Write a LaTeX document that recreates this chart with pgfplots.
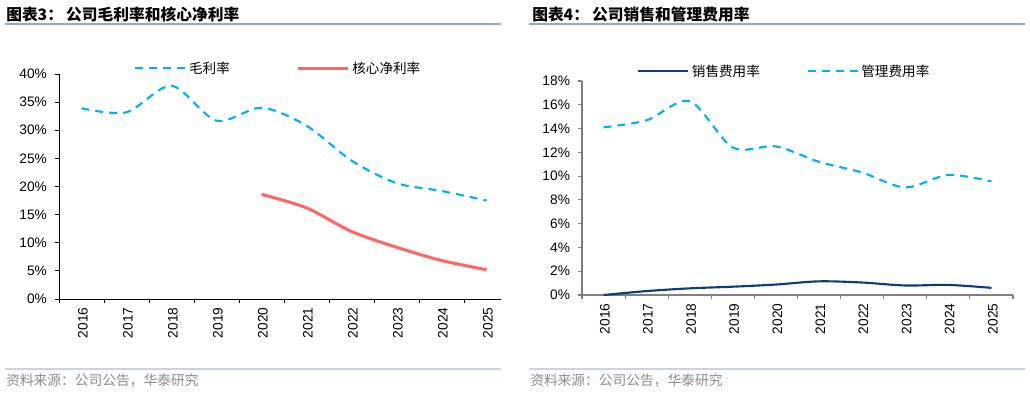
\documentclass[border=0pt]{standalone}
\usepackage{pgfplots}
\pgfplotsset{compat=1.18}
\usepackage{fontspec}
\setmainfont{Liberation Sans}
\newfontfamily\cjk{Noto Sans CJK SC}
\definecolor{cyanA}{HTML}{00B0F0}
\definecolor{redA}{HTML}{FF6666}
\definecolor{navyA}{HTML}{0F3C78}
\definecolor{titleline}{HTML}{8EAACB}
\definecolor{srcline}{HTML}{C8D4E2}
\definecolor{srctext}{HTML}{8C8C8C}
\pgfplotsset{
  mystyle/.style={
    scale only axis,
    axis x line*=bottom, axis y line*=left,
    tick align=outside,
    ymin=0,
    xmin=-0.5,
    xtick={0,...,9},
    xticklabels={2016,2017,2018,2019,2020,2021,2022,2023,2024,2025},
    major x tick style={draw=none},
    minor x tick num=0,
    minor tick length=3pt,
    major tick length=3pt,
    /pgf/number format/assume math mode=true,
    tick label style={font=\fontsize{10.3}{11}\selectfont, text=black},
    xticklabel style={rotate=90, anchor=east, yshift=-1pt},
    yticklabel={\pgfmathprintnumber{\tick}\%},
    yticklabel style={xshift=-2.5pt},
    legend cell align=left,
    legend image code/.code={\draw[#1] (0pt,0pt) -- (37.5pt,0pt);},
  }
}
\begin{document}
\begin{tikzpicture}
\useasboundingbox (0,0) rectangle (772.5pt,-294.75pt);
% titles
\node[anchor=west, inner sep=0pt] at (4.5pt,-10.5pt) {\cjk\bfseries\fontsize{11.8}{12}\selectfont 图表3：\hspace{0.2em}公司毛利率和核心净利率};
\node[anchor=west, inner sep=0pt] at (399pt,-10.5pt) {\cjk\bfseries\fontsize{11.8}{12}\selectfont 图表4：\hspace{0.2em}公司销售和管理费用率};
\draw[titleline, line width=1pt] (3.75pt,-18pt) -- (375.75pt,-18pt);
\draw[titleline, line width=1pt] (396.75pt,-18pt) -- (768.75pt,-18pt);
% sources
\draw[srcline, line width=1.5pt] (3.75pt,-276.5pt) -- (375.75pt,-276.5pt);
\draw[srcline, line width=1.5pt] (396.75pt,-276.5pt) -- (768.75pt,-276.5pt);
\node[anchor=west, inner sep=0pt, text=srctext] at (4.5pt,-285pt) {\cjk\fontsize{10.3}{11}\selectfont 资料来源：公司公告，华泰研究};
\node[anchor=west, inner sep=0pt, text=srctext] at (397.5pt,-285pt) {\cjk\fontsize{10.3}{11}\selectfont 资料来源：公司公告，华泰研究};

% left axis
\begin{axis}[mystyle,
  at={(44.25pt,-224.25pt)}, anchor=south west,
  width=331.5pt, height=168.75pt,
  xmax=9.32,
  minor xtick={-0.5,0.5,...,8.5},
  ymax=40, ytick={0,5,...,40},
  axis line style={black, line width=0.6pt},
  every tick/.style={black, line width=0.6pt},
  legend columns=2,
  legend style={draw=none, fill=none, at={(0.497,1.025)}, anchor=center,
    font=\cjk\fontsize{10.2}{11}\selectfont,
    /tikz/every even column/.append style={column sep=48pt}},
]
\addplot[cyanA, line width=1.6pt, dash pattern=on 6pt off 4.5pt, smooth, tension=0.5]
  coordinates {(0,33.9) (1,33.2) (2,37.9) (3,31.7) (4,34.0) (5,30.8) (6,24.6) (7,20.6) (8,19.2) (9,17.5)};
\addlegendentry{毛利率}
\addplot[redA, line width=2.3pt, smooth, tension=0.5]
  coordinates {(4,18.6) (5,16.2) (6,12.0) (7,9.2) (8,6.85) (9,5.2)};
\addlegendentry{核心净利率}
\end{axis}

% right axis
\begin{axis}[mystyle,
  at={(436.5pt,-221.25pt)}, anchor=south west,
  width=323.25pt, height=160.5pt,
  xmax=9.5,
  minor xtick={-0.5,0.5,...,9.5},
  ymax=18, ytick={0,2,...,18},
  axis line style={gray, line width=0.8pt},
  every tick/.style={gray, line width=0.8pt},
  legend columns=2,
  legend style={draw=none, fill=none, at={(0.47,1.045)}, anchor=center,
    font=\cjk\fontsize{10.2}{11}\selectfont,
    /tikz/every even column/.append style={column sep=33pt}},
]
\addplot[navyA, line width=1.6pt, smooth, tension=0.5]
  coordinates {(0,0) (1,0.33) (2,0.56) (3,0.7) (4,0.88) (5,1.15) (6,1.05) (7,0.8) (8,0.85) (9,0.6)};
\addlegendentry{销售费用率}
\addplot[cyanA, line width=1.6pt, dash pattern=on 6pt off 4.5pt, smooth, tension=0.5]
  coordinates {(0,14.1) (1,14.7) (2,16.3) (3,12.4) (4,12.5) (5,11.2) (6,10.3) (7,9.05) (8,10.1) (9,9.55)};
\addlegendentry{管理费用率}
\end{axis}
\end{tikzpicture}
\end{document}
